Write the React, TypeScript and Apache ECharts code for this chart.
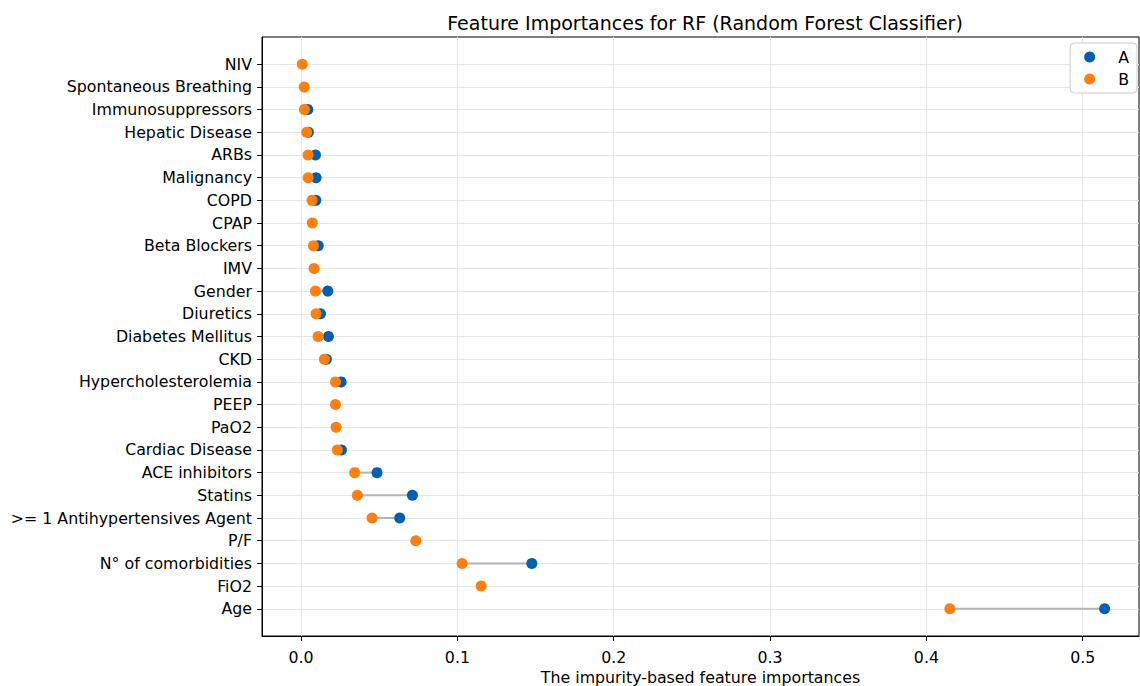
import React, { useEffect, useRef } from "react";
import * as echarts from "echarts";

// Categories from bottom (index 0) to top
const categories = [
  "Age",
  "FiO2",
  "N° of comorbidities",
  "P/F",
  ">= 1 Antihypertensives Agent",
  "Statins",
  "ACE inhibitors",
  "Cardiac Disease",
  "PaO2",
  "PEEP",
  "Hypercholesterolemia",
  "CKD",
  "Diabetes Mellitus",
  "Diuretics",
  "Gender",
  "IMV",
  "Beta Blockers",
  "CPAP",
  "COPD",
  "Malignancy",
  "ARBs",
  "Hepatic Disease",
  "Immunosuppressors",
  "Spontaneous Breathing",
  "NIV",
];

const valuesA: (number | null)[] = [
  0.514, null, 0.1476, null, 0.0631, 0.0712, 0.0486, 0.0258, null, null,
  0.0256, 0.0162, 0.0175, 0.0124, 0.0171, null, 0.011, null, 0.0094, 0.0096,
  0.0092, 0.0047, 0.0043, null, null,
];

const valuesB: number[] = [
  0.415, 0.1152, 0.103, 0.0734, 0.0454, 0.036, 0.0343, 0.0232, 0.0224, 0.022,
  0.022, 0.0149, 0.0109, 0.0096, 0.0092, 0.0083, 0.0079, 0.0072, 0.007, 0.0045,
  0.0045, 0.0036, 0.0021, 0.002, 0.0008,
];

const xTicks = [0, 0.1, 0.2, 0.3, 0.4, 0.5];

const COLOR_A = "#0060b0";
const COLOR_B = "#ff7f0e";

export default function App() {
  const ref = useRef<HTMLDivElement>(null);

  useEffect(() => {
    if (!ref.current) return;
    const chart = echarts.init(ref.current, null, { renderer: "svg" });
    const n = categories.length;
    const yIdx = categories.map((_, i) => i);

    const pairData = categories
      .map((_, i) => [valuesA[i], valuesB[i], i])
      .filter((d) => d[0] !== null);

    const font = "DejaVu Sans";
    const fs = 15.8;

    chart.setOption({
      animation: false,
      backgroundColor: "#ffffff",
      title: {
        text: "Feature Importances for RF (Random Forest Classifier)",
        left: 700,
        top: 8,
        textAlign: "center",
        textStyle: {
          fontFamily: font,
          fontSize: 19,
          fontWeight: "normal",
          color: "#000",
        },
      },
      legend: {
        orient: "vertical",
        right: 3,
        top: 43,
        data: ["A", "B"],
        icon: "circle",
        itemWidth: 11,
        itemHeight: 11,
        itemGap: 6,
        padding: [6, 8, 6, 14],
        borderColor: "#cccccc",
        borderWidth: 1,
        borderRadius: 4,
        backgroundColor: "#ffffff",
        textStyle: {
          fontFamily: font,
          fontSize: fs,
          color: "#000",
          padding: [0, 0, 0, 18],
        },
      },
      grid: {
        left: 262,
        right: 1,
        top: 37,
        bottom: 50,
        show: true,
        borderColor: "#000",
        borderWidth: 1,
        outerBoundsMode: "none",
        containLabel: false,
      },
      xAxis: {
        type: "value",
        min: -0.025,
        max: 0.536,
        name: "The impurity-based feature importances",
        nameLocation: "middle",
        nameGap: 32,
        nameTextStyle: { fontFamily: font, fontSize: fs, color: "#000" },
        axisLine: { show: true, onZero: false, lineStyle: { color: "#000", width: 1 } },
        axisTick: {
          show: true,
          length: 5,
          customValues: xTicks,
          lineStyle: { color: "#000" },
        },
        axisLabel: {
          customValues: xTicks,
          formatter: (v: number) => v.toFixed(1),
          fontFamily: font,
          fontSize: fs,
          color: "#000",
          margin: 13,
        },
        splitLine: { show: true, lineStyle: { color: "#e6e6e6", width: 1 } },
      },
      yAxis: {
        type: "value",
        min: -1.2,
        max: n - 1 + 1.2,
        axisLine: { show: true, onZero: false, lineStyle: { color: "#000", width: 1 } },
        axisTick: {
          show: true,
          length: 5,
          customValues: yIdx,
          lineStyle: { color: "#000" },
        },
        axisLabel: {
          customValues: yIdx,
          formatter: (v: number) => categories[Math.round(v)] ?? "",
          fontFamily: font,
          fontSize: fs,
          color: "#000",
          margin: 10,
        },
        splitLine: { show: true, lineStyle: { color: "#e6e6e6", width: 1 } },
      },
      series: [
        {
          type: "custom",
          name: "pairs",
          data: pairData,
          encode: { x: [0, 1], y: 2 },
          renderItem: (params: any, api: any) => {
            const p1 = api.coord([api.value(0), api.value(2)]);
            const p2 = api.coord([api.value(1), api.value(2)]);
            return {
              type: "line",
              shape: { x1: p1[0], y1: p1[1], x2: p2[0], y2: p2[1] },
              style: { stroke: "#b4b4b4", lineWidth: 2 },
            };
          },
          z: 1,
          silent: true,
        },
        {
          type: "scatter",
          name: "A",
          data: categories
            .map((_, i) => [valuesA[i], i])
            .filter((d) => d[0] !== null),
          symbolSize: 11,
          itemStyle: { color: COLOR_A, opacity: 1 },
          z: 2,
        },
        {
          type: "scatter",
          name: "B",
          data: categories.map((_, i) => [valuesB[i], i]),
          symbolSize: 11,
          itemStyle: { color: COLOR_B, opacity: 1 },
          z: 3,
        },
      ],
    });

    return () => chart.dispose();
  }, []);

  return (
    <div
      ref={ref}
      style={{ position: "absolute", left: 0, top: 0, width: 1140, height: 686 }}
    />
  );
}
